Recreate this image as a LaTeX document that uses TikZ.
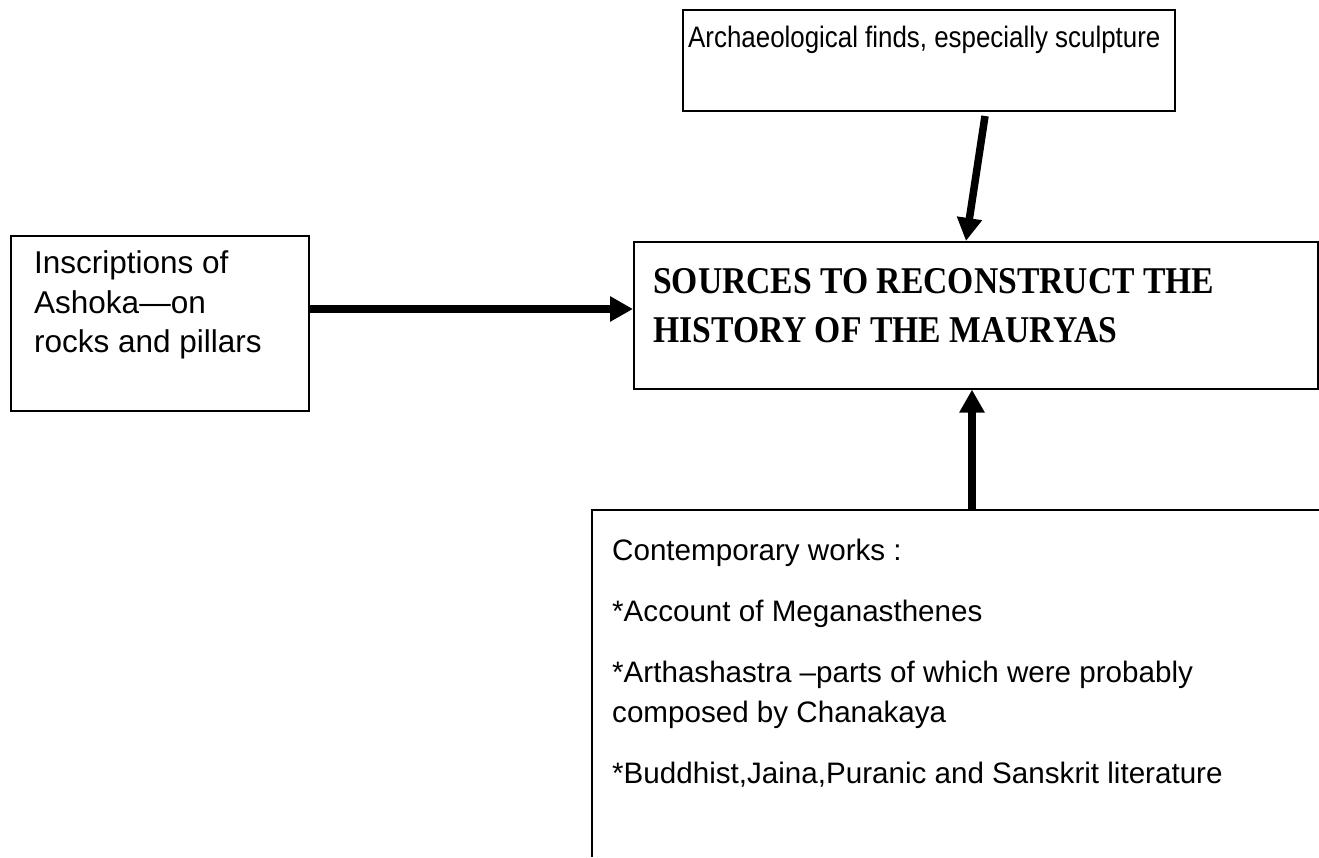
\documentclass[tikz,border=0pt]{standalone}
\usepackage{fontspec}
\setmainfont{Liberation Sans}
\newfontfamily\narrowfont{Liberation Sans}[FakeStretch=0.875]
\newfontfamily\titlefont{Liberation Serif}[FakeStretch=0.89]
\usetikzlibrary{arrows.meta}
\tikzset{
  x=1pt, y=-1pt,
  box/.style={draw, line width=1.6pt, inner sep=0pt},
  txt/.style={anchor=base west, inner sep=0pt, font=\fontsize{29.6}{35}\selectfont},
  sidetxt/.style={txt, font=\fontsize{31.5}{37}\selectfont},
  toptxt/.style={txt, font=\narrowfont\fontsize{29.6}{35}\selectfont},
  ttl/.style={anchor=base west, inner sep=0pt, font=\titlefont\bfseries\fontsize{37.8}{44}\selectfont},
  bigarrow/.style={line width=7.5pt, -{Triangle[width=24pt,length=23pt]}},
}
\begin{document}
\begin{tikzpicture}
\useasboundingbox (0,0) rectangle (1319,857);

% archaeological finds
\node[box, anchor=north west, minimum width=492pt, minimum height=101pt] (arch) at (682,9) {};
\node[toptxt] (archtxt) at (688,47) {Archaeological finds, especially sculpture};

% inscriptions
\node[box, anchor=north west, minimum width=298pt, minimum height=175pt] (insc) at (10,235) {};
\node[sidetxt] (insc1) at (34,273) {Inscriptions of};
\node[sidetxt] (insc2) at (34,313) {Ashoka---on};
\node[sidetxt] (insc3) at (34,352) {rocks and pillars};

% central box
\node[box, anchor=north west, minimum width=684pt, minimum height=147pt] (main) at (633,241) {};
\node[ttl] (ttl1) at (653,293) {SOURCES TO RECONSTRUCT THE};
\node[ttl] (ttl2) at (653,342) {HISTORY OF THE MAURYAS};

% contemporary works (open frame)
\coordinate (cwcorner) at (592,510);
\coordinate (cwend) at (1319,510);
\coordinate (cwfoot) at (592,857);
\draw[line width=1.6pt] (cwfoot) -- (cwcorner) -- (cwend);
\node[txt] (cw1) at (612,560) {Contemporary works :};
\node[txt] (cw2) at (612,621) {*Account of Meganasthenes};
\node[txt] (cw3) at (612,682) {*Arthashastra --parts of which were probably};
\node[txt] (cw4) at (612,722) {composed by Chanakaya};
\node[txt] (cw5) at (612,783) {*Buddhist,Jaina,Puranic and Sanskrit literature};

% connectors
\coordinate (archfoot) at (985,116);
\coordinate (mainhead) at (966,241);
\draw[bigarrow] (archfoot) -- (mainhead);
\draw[bigarrow] (insc.east |- 0,309) -- (main.west |- 0,309);
\coordinate (cwtop) at (972,510);
\draw[bigarrow] (cwtop) -- (main.south -| cwtop);
\end{tikzpicture}
\end{document}
